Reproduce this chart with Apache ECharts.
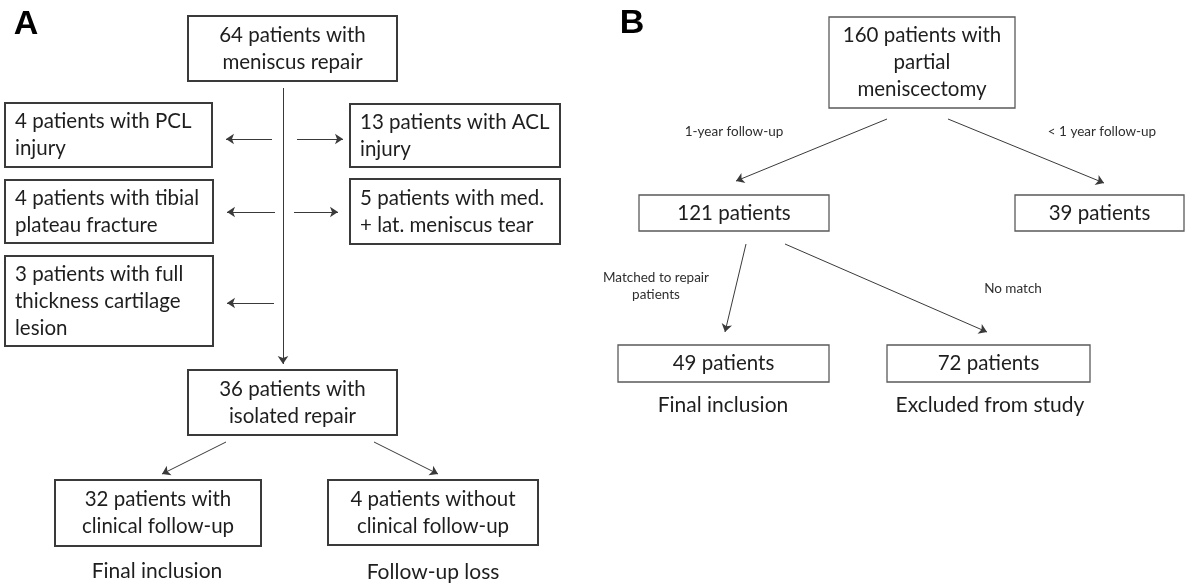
<!DOCTYPE html>
<html>
<head>
<meta charset="utf-8">
<script src="https://cdn.jsdelivr.net/npm/echarts@6/dist/echarts.min.js"></script>
<style>
html,body{margin:0;padding:0;background:#fff;}
#chart{width:1187px;height:584px;}
</style>
</head>
<body>
<div id="chart"></div>
<script>
// ---- content ----
const panelLabels = ['A', 'B'];
const nodeTexts = [
  '64 patients with\nmeniscus repair',
  '4 patients with PCL\ninjury',
  '13 patients with ACL\ninjury',
  '4 patients with tibial\nplateau fracture',
  '5 patients with med.\n+ lat. meniscus tear',
  '3 patients with full\nthickness cartilage\nlesion',
  '36 patients with\nisolated repair',
  '32 patients with\nclinical follow-up',
  '4 patients without\nclinical follow-up',
  '160 patients with\npartial\nmeniscectomy',
  '121 patients',
  '39 patients',
  '49 patients',
  '72 patients'
];
const edgeLabelTexts = ['1-year follow-up', '< 1 year follow-up', 'Matched to repair\npatients', 'No match'];
const captionTexts = ['Final inclusion', 'Follow-up loss', 'Final inclusion', 'Excluded from study'];

// ---- layout (positions in the 1187x584 drawing space) ----
const nodeBoxes = [
  [188, 16, 397, 81], [5, 103, 212, 167], [350, 104, 560, 167], [5, 180, 213, 243],
  [350, 179, 560, 244], [5, 256, 213, 346], [188, 370, 397, 435], [55, 480, 261, 546],
  [328, 480, 538, 545], [829, 17, 1015, 108], [639, 195, 829, 231], [1015, 195, 1184, 231],
  [618, 345, 829, 382], [887, 345, 1090, 382]
];
const nodeAlign = ['c','l','l','l','l','l','c','c','c','c','c','c','c','c'];
const nodePanel = [0,0,0,0,0,0,0,0,0,1,1,1,1,1];
const edgeSegments = [
  [[283, 88], [283, 364]],
  [[272, 139], [226, 139]], [[297, 139], [343, 139]],
  [[275, 212], [227, 212]], [[294, 212], [338, 212]],
  [[274, 303], [227, 303]],
  [[226, 442], [162, 474]], [[374, 442], [438, 474]],
  [[887, 119], [736, 181]], [[948, 119], [1104, 183]],
  [[746, 244], [725, 332]], [[785, 244], [987, 332]]
];
const edgeLabelPos = [[734, 132], [1102, 132], [656, 286], [1013, 289]];
const captionPos = [[157, 571], [433, 572], [723, 405], [990, 405]];
const panelLabelPos = [[26, 25], [632, 24]];

const FONT = 'Lato, "Open Sans", sans-serif';

const chart = echarts.init(document.getElementById('chart'), null, {renderer: 'canvas'});

const nodeData = nodeBoxes.map((b, i) => [b[0], b[1], b[2], b[3], i]);
const textData = [];
edgeLabelTexts.forEach((t, i) => textData.push([edgeLabelPos[i][0], edgeLabelPos[i][1], 'edge', i]));
captionTexts.forEach((t, i) => textData.push([captionPos[i][0], captionPos[i][1], 'cap', i]));
panelLabels.forEach((t, i) => textData.push([panelLabelPos[i][0], panelLabelPos[i][1], 'panel', i]));

chart.setOption({
  animation: false,
  backgroundColor: '#ffffff',
  grid: {left: 0, right: 0, top: 0, bottom: 0},
  xAxis: {type: 'value', min: 0, max: 1187, show: false},
  yAxis: {type: 'value', min: 0, max: 584, inverse: true, show: false},
  series: [
    {
      type: 'custom',
      coordinateSystem: 'cartesian2d',
      data: nodeData,
      encode: {x: [0, 2], y: [1, 3]},
      renderItem: function (params, api) {
        const i = api.value(4);
        const p1 = api.coord([api.value(0), api.value(1)]);
        const p2 = api.coord([api.value(2), api.value(3)]);
        const panelB = nodePanel[i] === 1;
        const left = nodeAlign[i] === 'l';
        return {
          type: 'group',
          children: [
            {
              type: 'rect',
              shape: {x: p1[0], y: p1[1], width: p2[0] - p1[0], height: p2[1] - p1[1]},
              style: {fill: '#ffffff', stroke: panelB ? '#5a5a5a' : '#3a3a3a', lineWidth: panelB ? 1.3 : 2}
            },
            {
              type: 'text',
              style: {
                text: nodeTexts[i],
                x: left ? p1[0] + 10 : (p1[0] + p2[0]) / 2,
                y: (p1[1] + p2[1]) / 2,
                textAlign: left ? 'left' : 'center',
                textVerticalAlign: 'middle',
                font: '20.5px ' + FONT,
                lineHeight: 27,
                fill: '#1e1e1e'
              }
            }
          ]
        };
      }
    },
    {
      type: 'lines',
      coordinateSystem: 'cartesian2d',
      symbol: ['none', 'arrow'],
      symbolSize: 8,
      lineStyle: {color: '#3a3a3a', width: 1, opacity: 1},
      data: edgeSegments.map(s => ({coords: s}))
    },
    {
      type: 'custom',
      coordinateSystem: 'cartesian2d',
      data: textData,
      renderItem: function (params, api) {
        const d = textData[params.dataIndex];
        const p = api.coord([d[0], d[1]]);
        let text, font, lh, fill = '#1e1e1e';
        if (d[2] === 'edge') { text = edgeLabelTexts[d[3]]; font = '13.5px ' + FONT; lh = 17; fill = '#2e2e2e'; }
        else if (d[2] === 'cap') { text = captionTexts[d[3]]; font = '21px ' + FONT; lh = 24; }
        else { text = panelLabels[d[3]]; font = 'bold 34px "Liberation Sans", Arial, sans-serif'; lh = 36; fill = '#000000'; }
        return {
          type: 'text',
          style: {text: text, x: p[0], y: p[1], textAlign: 'center', textVerticalAlign: 'middle', font: font, lineHeight: lh, fill: fill}
        };
      }
    }
  ]
});
</script>
</body>
</html>
